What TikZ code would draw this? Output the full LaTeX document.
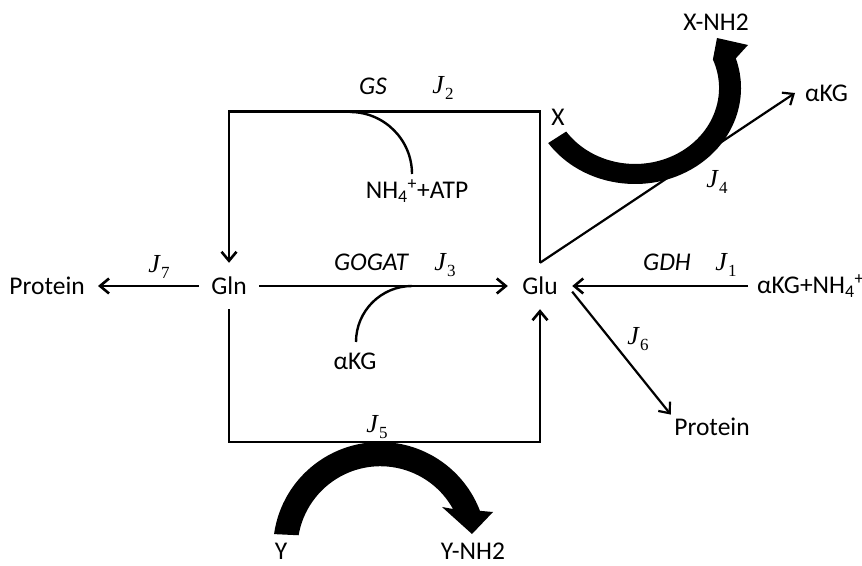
\documentclass[tikz,border=0pt]{standalone}
\usepackage{fontspec}
\setmainfont{Carlito}
\newfontfamily\tnr{Liberation Serif}
\usetikzlibrary{arrows.meta}
\newcommand{\Jf}[1]{{\tnr\fontsize{26}{28}\selectfont\textit{J}\raisebox{-6pt}{\fontsize{17}{18}\selectfont #1}}}
\begin{document}
\begin{tikzpicture}[x=1pt,y=1pt,
  every node/.style={font=\fontsize{25.5}{28}\selectfont, text=black},
  met/.style={inner sep=0pt, minimum width=60pt, minimum height=46pt},
  lbl/.style={inner sep=0pt},
  enz/.style={inner sep=0pt, font=\fontsize{25.5}{28}\selectfont\itshape},
  flow/.style={line width=2.6pt, -{Straight Barb[length=9pt,width=15pt]}},
  link/.style={line width=2.4pt},
  bigarrow/.style={fill=black}]
\useasboundingbox (0,0) rectangle (862,565);

% metabolites
\node[met] (Gln) at (229,279) {Gln};
\node[met, minimum width=64pt] (Glu) at (540,279) {Glu};
\node[anchor=east, inner xsep=13pt, inner ysep=0pt] (protL) at (98,279) {Protein};
\node[anchor=west, inner xsep=9pt, inner ysep=0pt] (akgnh) at (748,279) {αKG+NH\textsubscript{4}\textsuperscript{+}};
\node[anchor=west, inner xsep=10pt] (akgtr) at (795,472) {αKG};
\node (protR) at (712,138) {Protein};
\node (nh4) at (417,374) {NH\textsubscript{4}\textsuperscript{+}+ATP};
\node (akgm) at (355,204) {αKG};
\node (X) at (558,448) {X};
\node (XNH) at (716,543) {X-NH2};
\node (Y) at (281,14) {Y};
\node (YNH) at (473,14) {Y-NH2};

% enzyme and flux labels
\node[enz] (gs) at (373,479) {GS};
\node[lbl] (j2) at (443,477) {\Jf{2}};
\node[enz] (gogat) at (371,303) {GOGAT};
\node[lbl] (j3) at (445,300) {\Jf{3}};
\node[lbl] (j7) at (159,298) {\Jf{7}};
\node[enz] (gdh) at (667,303) {GDH};
\node[lbl] (j1) at (726,300) {\Jf{1}};
\node[lbl] (j6) at (638,226) {\Jf{6}};
\node[lbl] (j4) at (717,383) {\Jf{4}};
\node[lbl] (j5) at (377,138) {\Jf{5}};

% connectors
\draw[flow] (Glu.north) -- ++(0,151) -| (Gln.north);
\draw[flow] (Gln) -- (Glu);
\draw[flow] (Gln) -- (protL);
\draw[flow] (akgnh) -- (Glu);
\draw[flow] (Gln.south) -- ++(0,-133) -| (Glu.south);
\draw[flow, line width=2.2pt] (Glu.north) -- (akgtr.west);
\draw[flow, line width=2.2pt] (Glu.-10) -- (protR.north west);

% co-substrate curves
\coordinate (gsj) at (350,453);
\draw[link] (gsj) arc[start angle=90, end angle=0, radius=62];
\coordinate (goj) at (412,279);
\draw[link] (goj) arc[start angle=90, end angle=180, radius=56];

% thick curved arrow X -> X-NH2
\coordinate (xc) at (635,477);
\fill[bigarrow] (xc) ++(215:106 and 96) arc[start angle=215, end angle=378, x radius=106, y radius=96]
  -- (748,520) -- (717,527) -- (712.9,505.5)
  arc[start angle=382, end angle=215, x radius=84, y radius=76] -- cycle;

% thick curved arrow Y -> Y-NH2
\coordinate (yc) at (380,16);
\fill[bigarrow] (yc) ++(172:107) arc[start angle=172, end angle=20.9, radius=107]
  -- (493,53) -- (472,31) -- (442,58) -- (453,56)
  arc[start angle=29, end angle=170.3, radius=83] -- cycle;
\end{tikzpicture}
\end{document}
